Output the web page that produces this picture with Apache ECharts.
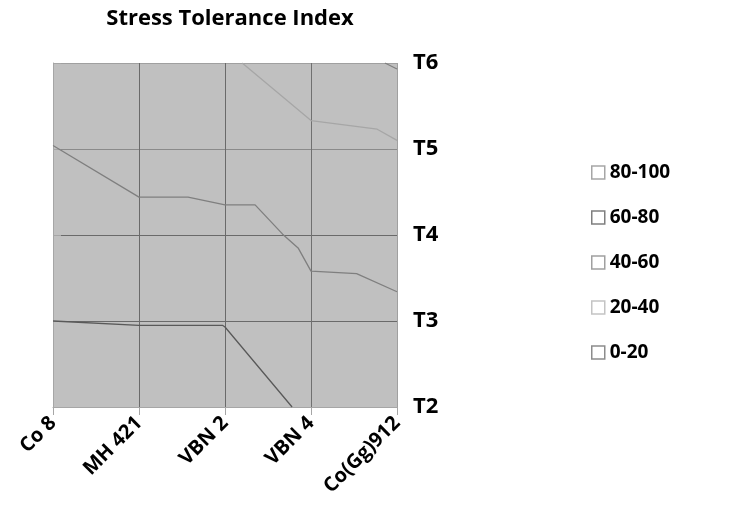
<!DOCTYPE html>
<html>
<head>
<meta charset="utf-8">
<script src="https://cdn.jsdelivr.net/npm/echarts@6/dist/echarts.min.js"></script>
<style>
  html, body { margin: 0; padding: 0; background: #fff; }
  #chart { width: 751px; height: 531px; }
</style>
</head>
<body>
<div id="chart"></div>
<script>
// varieties along the bottom, stress levels on the right
const varieties = ['Co 8', 'MH 421', 'VBN 2', 'VBN 4', 'Co(Gg)912'];
const bands = ['80-100', '60-80', '40-60', '20-40', '0-20'];

// contour lines, [variety index, stress level]
const line80 = [[3.86, 6], [4, 5.93]];
const line60 = [[2.2, 6], [3, 5.33], [3.77, 5.23], [4, 5.1]];
const line40 = [[0, 5.04], [1, 4.44], [1.57, 4.44], [2, 4.35], [2.35, 4.35], [2.67, 4.01], [2.85, 3.85], [3, 3.58], [3.53, 3.55], [4, 3.34]];
const line20 = [[0, 3.0], [1, 2.95], [1.97, 2.95], [2, 2.93], [2.78, 2.0]];
const line0 = [];

const chart = echarts.init(document.getElementById('chart'));
const font = 'Open Sans';

// legend swatch borders, same order as bands
const bandBorders = ['#a6a6a6', '#7f7f7f', '#a0a0a0', '#c4c4c4', '#8c8c8c'];
const lineColors = ['#7f7f7f', '#a6a6a6', '#7f7f7f', '#595959', '#595959'];
const lines = [line80, line60, line40, line20, line0];

let option = {
    animation: false,
    title: {
        text: 'Stress Tolerance Index',
        left: 225,
        top: 3,
        textAlign: 'center',
        textStyle: { fontFamily: font, fontWeight: 'bold', fontSize: 22, color: '#000' }
    },
    legend: {
        orient: 'vertical',
        left: 586,
        top: 158,
        itemWidth: 13,
        itemHeight: 13,
        itemGap: 26,
        icon: 'rect',
        textStyle: { fontFamily: font, fontWeight: 'bold', fontSize: 19, color: '#000' },
        data: bands.map((b, i) => ({
            name: b,
            itemStyle: { color: '#fff', borderColor: bandBorders[i], borderWidth: 1.5 }
        }))
    },
    grid: {
        left: 53, right: 354, top: 63, bottom: 124,
        show: true,
        backgroundColor: '#c0c0c0',
        borderWidth: 0
    },
    xAxis: {
        type: 'value',
        min: 0, max: 4, interval: 1,
        axisLine: { lineStyle: { color: '#a6a6a6' } },
        axisTick: { show: true, length: 8, lineStyle: { color: '#a6a6a6' } },
        axisLabel: {
            rotate: 45,
            margin: 13,
            fontFamily: font, fontWeight: 'bold', fontSize: 20, color: '#000',
            formatter: v => varieties[v]
        },
        splitLine: { lineStyle: { color: ['#a0a0a0', '#6a6a6a', '#6a6a6a', '#707070', '#a0a0a0'] } }
    },
    yAxis: {
        type: 'value',
        position: 'right',
        min: 2, max: 6, interval: 1,
        axisLine: { show: true, lineStyle: { color: '#a6a6a6' } },
        axisTick: { show: true, length: 8, lineStyle: { color: '#a6a6a6' } },
        axisLabel: {
            margin: 16,
            fontFamily: font, fontWeight: 'bold', fontSize: 22, color: '#000',
            formatter: v => 'T' + v
        },
        splitLine: { lineStyle: { color: ['#a0a0a0', '#6a6a6a', '#6a6a6a', '#8a8a8a', '#a0a0a0'] } }
    },
    series: bands.map((b, i) => ({
        name: b,
        type: 'line',
        symbol: 'none',
        data: lines[i],
        lineStyle: { color: lineColors[i], width: 1.3 },
        itemStyle: { color: '#fff' }
    }))
};

chart.setOption(option);
</script>
</body>
</html>
